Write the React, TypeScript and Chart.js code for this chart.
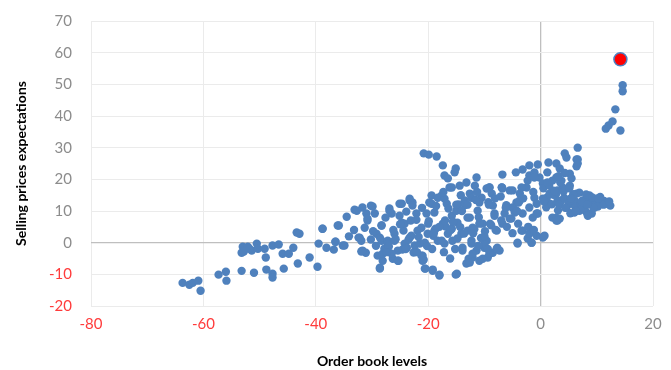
import React, { useEffect, useRef } from "react";
import { Chart, registerables } from "chart.js";

Chart.register(...registerables);

const xTickValues = [-80, -60, -40, -20, 0, 20];
const yTickValues = [-20, -10, 0, 10, 20, 30, 40, 50, 60, 70];

const orderBook = [
  -63.7, -62.5, -61.9, -60.9, -60.5, -57.3, -56, -55.9, -53.2, -53, -52.1, -53.2, -51.4, -51, -50.5, -50.3, -49.1, -48.9,
  -48.8, -47.7, -47.7, -47.7, -46.6, -45.9, -45.7, -44.8, -44, -43.4, -43.2, -41.1, -39.7, -39.5, -38.8, -38.1, -36.8,
  -36.5, -36.1, -52.8, -51.8,
  -35.9, -34.9, -34.5, -33.1, -32.4, -31.9, -31.9, -31.7, -31.1, -31, -30.8, -30.2, -29.9, -29.5, -29.2, -29, -28.6,
  -28.3, -28.3, -28.1, -27.8, -27.2, -26.9, -26.5, -26.3, -26, -25.4, -25.3, -25.1, -24.7, -24.7, -24.4, -23.8, -23.3,
  -23.3, -22.8, -22.4, -22.1, -21.9, -21.5, -21, -20.8, -20.5, -20.3, -20.1, -19.8, -19.4, -19.2, -18.9, -18.7, -18.3,
  -18, -17.6, -17.4, -17.1, -16.7, -16.5, -16.2, -15.8, -15.7, -15.1, -15, -14.8, -14.4, -14.1, -13.9, -13.5, -13.2,
  -13, -12.8, -12.6, -12.3, -12.1, -11.4, -11.2, -10.9, -10.5, -10.3, -10, -9.6, -9.4, -9.1, -8.5, -8.5, -8.2, -7.8,
  -7.7, -7.3, -6.9, -6.8, -6.4, -5.5, -5.2, -4.6, -4.3, -4.1, -3.7, -3.4, -3.2, -2.5, -2.3, -2, -1.6, -1.4, -1.1, -0.7,
  -0.5, 0.4, 0.7, 1.1, 1.6, 2.1, 2.8, 3.4, 3.7, 3.9, 4.6, 5.2, 5.7, 6.4, 6.9, 7.5, 8.2, 8.7, 9.1, 9.3, 10, 10.5, 10.9,
  14.6, 14.6, 13.3, 12.8, 12.1, 11.6, 14.2, 6.6, 4.3, 4.6, 6.4, 6.4, 2.8, 1.4, 3.4, 5.2, 5.5, -0.5, -2, -3.2, -4.4,
  -6.8, -11.4, -20.8, -19.9, -18.5, -17.4, -15.1, -15.3, -17.1, -16.5, -15.8, -13.2, -9.1, -6.9, -2, -1.1, -0.2, 1.2,
  2.1, 6.6, 6.6, 3.7, 6.9, 8.4, 10.1, 11, 9.6, 7.8, 6, 3, 2.8,
  -18.3, -19.4, -17.1, -23.3, -22.8, -25.1, -26.9, -12.3, -11.7, -9.6, -8.7, -6.8, -5, -3.4, -2.3, -1.1, 0.4, -10.9,
  -3.7, -5, 0.4, 1.6, 2.8,
  -38.8, -42.9, -32.7, -36.5, -35.2, -32.2, -31.3, -30.8, -28.3, -31.7, -28.6, -28.6, -28.1,
  -24.2, -21.2, -26, -23, -18.9, -15.8, -13, -27.2, -24.2, -20.6, -17.6, -14.8, -12.3, -26.5, -25.4, -21.2, -21, -20.6,
  -19.2, -18, -14.9, -13.9, -13, -12.1,
  -12.6, -10.9, -8.2, -5.5, -3.2, -2, -4.1, -1.6, -0.7, 0.5, -0.7, 2.1, 2.8, -10, -7.8, -9.1, -10.3, -12.1, -12.6,
  3, 8.4, 6,
  1, 2, 3, 4.2, 5, 6.2, 7.2, 8, 9, 10.2, 11.3, 12, 2.3, 4.1, 5.8, 8.1, 9.2, 0.6, 3.1, 5.3, 7.1, 0.5, 1.5, 2.5, 3.5,
  5.1, 11.8, 12.4, 10.6,
  -27, -25.8, -24.6, -23.5, -22.6, -21.7, -20.2, -19.1, -16.9, -15.6, -14.3, -13.6, -11.8, -10.6, -9.9, -8.8,
  -29.8, -27.6, -25, -23.9, -22.1, -19.9, -18.6, -16.4, -14.6, -13.4, -11.5, -9.3, -7.1, -6.1, -4.9, -3.9,
  -18, -17, -16, -14, -12, -11, -10, -9, -8, -7, -6, -5, -4, -19, -20, -15, -13, -9.2, -6.2, -4.2, -2.2, -1.2,
  -24, -22, -19.3, -17.2, -16.1, -15.2, -11.1, -9.4, -27.4, -29.3, -30.2, -33.2, -34.1, -26.2, -23.1, -21.1,
  -17.3, -14.2, -11.3, -8.1, -3.1, -1.3, 1.2, 3.2, 4.3,
  3.3, 5.4, 7.3, 9.4, 11.2, 4.4, 6.3, 8.3, 10.3, 12.2,
];

const sellingPrices = [
  -12.7, -13.3, -12.7, -12, -15.2, -10.1, -9.2, -12, -3.2, -1.3, -1.3, -8.9, -2.5, -9.5, -0.3, -1.9, -1.9, -4.7,
  -8.5, -0.9, -9.8, -11, -0.6, -3.5, -8.2, -3.5, -1.6, 3.2, -6.6, -4.7, -7.6, -0.3, 4.4, -1.6, -2.2,
  0.3, 5.4, -2.8, -1.9,
  5.4, -0.9, 8.2, 10.4, 1.6, 0.6, -2.8, 11.1, -3.2, 9.2, 7, 11.7, 11.4, 9.2, 2.8, -4.1, -7.9,
  5.4, 0.6, -5.7, -1.9, 0.6, 10.8, 9.2, -5.1, 0.6, -2.5, -5.7, 8.5, 6.3, 12.3, 3.8, -1.6, 13.9,
  1.6, 12.7, -0.9, 9.2, 3.8, -0.3, -4.1, -5.4, -8.2, 9.2, 2.8, 12.7, 14.9, -8.5, 9.5, 4.4, 0.6,
  -10.4, 14.9, 6, -0.3, 12.3, 2.8, 17.4, 8.5, 0.6, -10.1, 10.1, 6.3, 18, 2.8, -1.6, 13.3, -6.6,
  7.9, -5.1, 15.5, 0.6, 4.7, -2.5, 10.1, -5.7, 14.2, 6, -1.6, 0.6, -4.7, 17.4, 11.7, -3.2, 9.2, 3.8,
  -1.6, -2.5, 17.4, 6, 9.2, 16.5, 7.6, 9.5, 12.7, -0.3, 15.5, 3.8, 9.2, 17.4, 1.3, 11.1, 0, 7.9, 14.2, 12.3,
  9.2, 1.6, 2.2, 14.2, 15.5, 16.5, 7.9, 7.6, 13.3, 17.4, 11.1, 18, 12.3, 15.5, 10.1, 13.3, 9.5, 14.9, 9.2, 13.3, 13.9, 12.7, 12.3,
  49.7, 47.8, 42.1, 38.3, 37, 36, 35.4, 30, 28.2, 26.9, 26.3, 24.1, 25, 25.3, 23.4, 21.8, 20.3, 24.7, 24.4, 23.1, 22.2,
  21.5, 20.6, 28.2, 27.8, 27.2, 24.4, 23.4, 22.2, 21.2, 20.3, 17.4, 19, 17.4, 17.4, 21.2, 22.2, 20.6, 22.2,
  19.6, 26.3, 25, 19.6, 15.8, 13.3, 13.3, 12.7, 11.1, 11.1, 13.3, 16.5, 20.6,
  14.2, 12.3, 13.9, 13.3, 11.7, 12.3, 10.1, 14.2, 18, 17.1, 15.5, 17.1, 16.5, 17.4, 19.6, 20.6, 18.7, 12.7,
  13.3, 11.1, 13.9, 12.3, 15.5,
  4.4, 2.8, 10.1, 0.3, -0.9, 1.6, 4.7, 7.6, 5.4, -2.5, -8.2, 1.6, -3.5,
  6, 4.7, 2.8, 2.2, 3.8, 4.4, 3.8, -0.3, -0.3, 0, 0.6, 1.3, -0.3, -3.5, -5.7, -4.1, -5.7, -8.2,
  -8.9, -10.1, -9.8, -2.5, -6.3, -4.7,
  7.9, 6, 8.5, 7.6, 3.8, 2.8, 0, 0, 2.2, 1.9, 9.2, 7.9, 7, -0.3, -1.9, -3.5, -5.1, -3.5, -6.3,
  7, 8.5, 9.5,
  11.2, 12.1, 13.2, 14.1, 12.2, 11.3, 12.4, 13.1, 12.3, 11.4, 13.2, 12.2, 15.1, 16.2, 15.3, 15.2, 14.3, 13.1, 10.2, 9.3, 10.3, 17.2, 18.1, 16.3, 19.1,
  17.2, 12.6, 11.7, 14.4,
  -1.2, 1.1, -2.2, 0.9, -3.1, 1.8, -1.1, 2.2, 5.1, 6.6, 4.9, 2.9, 4.2, 1.5, 3.6, 5.5,
  3.6, 7.9, 5.8, 9.8, 7.2, 6.8, 11.6, 10.8, 12.1, 11.9, 13.5, 12.8, 14.6, 11.8, 10.9, 12.7,
  5, 7, 4, 10, 3, 8, 2, 6, 4, 7, 5, 3, 6, 3, 6, 12, 12, 12, 11, 10, 5, 4,
  -2, -3, -2, -3, -5, -2, -1, -2, -3, -1, 1, 4, 2, 4, 7, 11,
  16, 15, 16, 14, 14, 16, 19, 21, 22,
  12, 14, 13, 11, 12, 11, 10, 12, 14, 13,
];

const latestX = [14.2];
const latestY = [57.9];

const tickColor = (v: number) => (v < 0 ? "#FF3B3B" : "#8C8C8C");

export default function App() {
  const ref = useRef<HTMLCanvasElement | null>(null);

  useEffect(() => {
    document.body.style.margin = "0";
    const canvas = ref.current;
    if (!canvas) return;
    const n = Math.min(orderBook.length, sellingPrices.length);
    const points = [] as { x: number; y: number }[];
    for (let i = 0; i < n; i++) points.push({ x: orderBook[i], y: sellingPrices[i] });
    const latest = latestX.map((x, i) => ({ x, y: latestY[i] }));

    const chart = new Chart(canvas, {
      type: "scatter",
      data: {
        datasets: [
          {
            label: "Latest",
            data: latest,
            backgroundColor: "#FF0000",
            borderColor: "#4F7FBF",
            borderWidth: 1.5,
            pointRadius: 6.5,
            order: 0,
          },
          {
            label: "Observations",
            data: points,
            backgroundColor: "#4F81BD",
            borderColor: "#4F81BD",
            borderWidth: 0,
            pointRadius: 4.2,
            order: 1,
          },
        ],
      },
      options: {
        animation: false,
        responsive: true,
        maintainAspectRatio: false,
        layout: { padding: { left: 0, right: 18, top: 21, bottom: 0 } },
        plugins: { legend: { display: false }, tooltip: { enabled: false } },
        scales: {
          x: {
            type: "linear",
            min: -80,
            max: 20,
            afterBuildTicks: (s: any) => {
              s.ticks = xTickValues.map((v) => ({ value: v }));
            },
            afterFit: (s: any) => {
              s.height = 64;
              s.paddingLeft = 0;
              s.paddingRight = 0;
            },
            grid: {
              color: (c: any) => (c.tick && c.tick.value === 0 ? "#BFBFBF" : "#EBEBEB"),
              lineWidth: (c: any) => (c.tick && c.tick.value === 0 ? 1.3 : 1),
              drawTicks: false,
            },
            border: { display: false },
            ticks: {
              padding: 9,
              color: (c: any) => tickColor(c.tick.value),
              font: { family: "Lato", size: 15 },
            },
            title: {
              display: true,
              text: "Order book levels",
              color: "#000000",
              font: { family: "Lato", size: 14, weight: "bold" },
              padding: { top: 0, bottom: 0 },
            },
          },
          y: {
            type: "linear",
            min: -20,
            max: 70,
            afterBuildTicks: (s: any) => {
              s.ticks = yTickValues.map((v) => ({ value: v }));
            },
            afterFit: (s: any) => {
              s.width = 91;
              s.paddingTop = 0;
              s.paddingBottom = 0;
            },
            grid: {
              color: (c: any) => (c.tick && c.tick.value === 0 ? "#BFBFBF" : "#EBEBEB"),
              lineWidth: (c: any) => (c.tick && c.tick.value === 0 ? 1.3 : 1),
              drawTicks: false,
            },
            border: { display: false },
            ticks: {
              padding: 19,
              color: (c: any) => tickColor(c.tick.value),
              font: { family: "Lato", size: 15 },
            },
            title: {
              display: true,
              text: "Selling prices expectations",
              color: "#000000",
              font: { family: "Lato", size: 14, weight: "bold" },
              padding: { top: 13, bottom: 0 },
            },
          },
        },
      },
    });
    return () => chart.destroy();
  }, []);

  return (
    <div style={{ position: "fixed", left: 0, top: 0, width: 671, height: 370 }}>
      <canvas ref={ref} />
    </div>
  );
}
